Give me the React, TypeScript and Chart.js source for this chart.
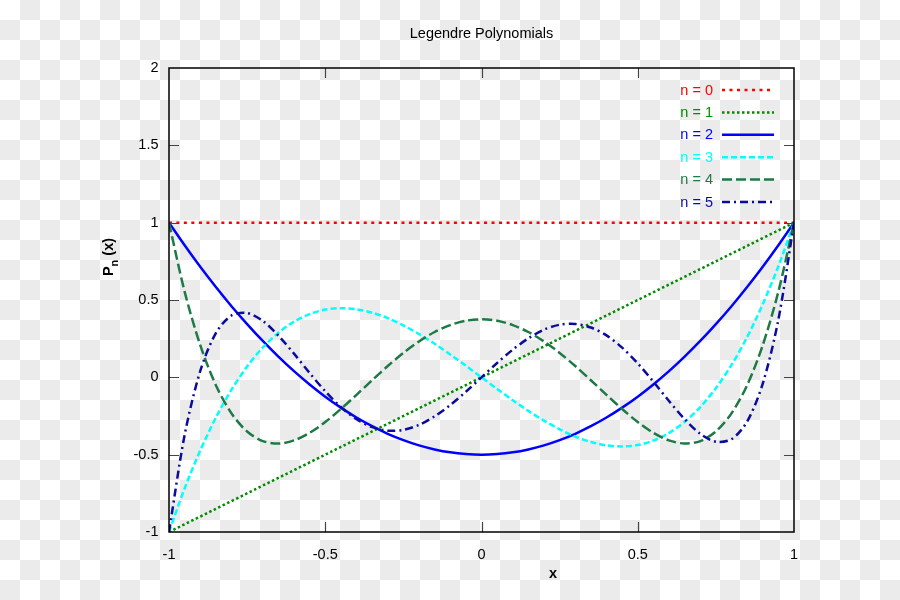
import { useEffect, useRef } from 'react';
import { Chart, registerables } from 'chart.js';

Chart.register(...registerables);

const chartTitle = 'Legendre Polynomials';
const xAxisTitle = 'x';
const seriesLabels = ['n = 0', 'n = 1', 'n = 2', 'n = 3', 'n = 4', 'n = 5'];
const seriesColors = ['#ff0000', '#008a00', '#0000ff', '#00ffff', '#1d7a46', '#0b0b9c'];

// straight lines (n = 0, n = 1)
const lineX = [-1, 1];
const p0 = [1, 1];
const p1 = [-1, 1];

// sampled curves (n = 2 .. 5)
const xValues = [
  -1, -0.95, -0.9, -0.85, -0.8, -0.75, -0.7, -0.65, -0.6, -0.55, -0.5, -0.45, -0.4, -0.35, -0.3, -0.25,
  -0.2, -0.15, -0.1, -0.05, 0, 0.05, 0.1, 0.15, 0.2, 0.25, 0.3, 0.35, 0.4, 0.45, 0.5, 0.55, 0.6, 0.65,
  0.7, 0.75, 0.8, 0.85, 0.9, 0.95, 1,
];
const p2 = [
  1, 0.854, 0.715, 0.584, 0.46, 0.344, 0.235, 0.134, 0.04, -0.046, -0.125, -0.196, -0.26, -0.316, -0.365,
  -0.406, -0.44, -0.466, -0.485, -0.496, -0.5, -0.496, -0.485, -0.466, -0.44, -0.406, -0.365, -0.316, -0.26,
  -0.196, -0.125, -0.046, 0.04, 0.134, 0.235, 0.344, 0.46, 0.584, 0.715, 0.854, 1,
];
const p3 = [
  -1, -0.718, -0.473, -0.26, -0.08, 0.07, 0.193, 0.288, 0.36, 0.409, 0.438, 0.447, 0.44, 0.418, 0.383,
  0.336, 0.28, 0.217, 0.148, 0.075, 0, -0.075, -0.148, -0.217, -0.28, -0.336, -0.383, -0.418, -0.44,
  -0.447, -0.438, -0.409, -0.36, -0.288, -0.193, -0.07, 0.08, 0.26, 0.473, 0.718, 1,
];
const p4 = [
  1, 0.554, 0.208, -0.051, -0.233, -0.35, -0.412, -0.428, -0.408, -0.359, -0.289, -0.205, -0.113, -0.019,
  0.073, 0.158, 0.232, 0.293, 0.338, 0.366, 0.375, 0.366, 0.338, 0.293, 0.232, 0.158, 0.073, -0.019, -0.113,
  -0.205, -0.289, -0.359, -0.408, -0.428, -0.412, -0.35, -0.233, -0.051, 0.208, 0.554, 1,
];
const p5 = [
  -1, -0.373, 0.041, 0.286, 0.4, 0.416, 0.365, 0.27, 0.153, 0.028, -0.09, -0.192, -0.271, -0.322, -0.345,
  -0.34, -0.308, -0.252, -0.179, -0.093, 0, 0.093, 0.179, 0.252, 0.308, 0.34, 0.345, 0.322, 0.271, 0.192,
  0.09, -0.028, -0.153, -0.27, -0.365, -0.416, -0.4, -0.286, -0.041, 0.373, 1,
];

// tick values and their labels
const xTickValues = [-1, -0.5, 0, 0.5, 1];
const xTickLabels = ['-1', '-0.5', '0', '0.5', '1'];
const yTickValues = [-1, -0.5, 0, 0.5, 1, 1.5, 2];
const yTickLabels = ['-1', '-0.5', '0', '0.5', '1', '1.5', '2'];

const xMin = -1;
const xMax = 1;
const yMin = -1;
const yMax = 2;
const tickStep = 0.5;

const dashes: number[][] = [[3, 4.5], [2.5, 2.5], [], [6, 3], [10, 4], [8, 4, 2, 4]];
const widths = [2.5, 2.5, 2.5, 2.5, 2.5, 2.5];

const FONT = '"Liberation Sans", Arial, sans-serif';
const FS = 14.5;

const labelFor = (values: number[], labels: string[], v: number) => {
  const i = values.findIndex((t) => Math.abs(t - v) < 1e-9);
  return i >= 0 ? labels[i] : '';
};

const framePlugin = {
  id: 'frameTicks',
  afterDatasetsDraw(chart: any) {
    const { ctx, chartArea } = chart;
    const { left, right, top, bottom } = chartArea;
    const xs = chart.scales.x;
    const ys = chart.scales.y;
    ctx.save();
    ctx.strokeStyle = '#444';
    ctx.lineWidth = 1.2;
    ctx.beginPath();
    xs.ticks.forEach((t: any) => {
      if (t.value <= xMin || t.value >= xMax) return;
      const px = Math.round(xs.getPixelForValue(t.value)) + 0.5;
      ctx.moveTo(px, bottom);
      ctx.lineTo(px, bottom - 10);
      ctx.moveTo(px, top);
      ctx.lineTo(px, top + 10);
    });
    ys.ticks.forEach((t: any) => {
      if (t.value <= yMin || t.value >= yMax) return;
      const py = Math.round(ys.getPixelForValue(t.value)) + 0.5;
      ctx.moveTo(left, py);
      ctx.lineTo(left + 10, py);
      ctx.moveTo(right, py);
      ctx.lineTo(right - 10, py);
    });
    ctx.stroke();
    ctx.strokeStyle = '#000';
    ctx.lineWidth = 1.5;
    ctx.strokeRect(left, top, right - left, bottom - top);
    ctx.restore();
  },
};

const legendPlugin = {
  id: 'insideLegend',
  afterDraw(chart: any) {
    const { ctx } = chart;
    ctx.save();
    ctx.font = `${FS}px ${FONT}`;
    ctx.textAlign = 'right';
    ctx.textBaseline = 'middle';
    chart.data.datasets.forEach((ds: any, i: number) => {
      const y = 90 + i * 22.4;
      ctx.fillStyle = ds.borderColor;
      ctx.fillText(seriesLabels[i], 713, y + 0.5);
      ctx.strokeStyle = ds.borderColor;
      ctx.lineWidth = ds.borderWidth;
      ctx.setLineDash(ds.borderDash || []);
      ctx.beginPath();
      ctx.moveTo(722, y);
      ctx.lineTo(774, y);
      ctx.stroke();
    });
    ctx.restore();
  },
};

const axisTitlesPlugin = {
  id: 'axisTitles',
  afterDraw(chart: any) {
    const { ctx } = chart;
    ctx.save();
    ctx.fillStyle = '#000';
    const big = `bold ${FS}px ${FONT}`;
    const small = `bold 11px ${FONT}`;
    // x title
    ctx.font = big;
    ctx.textAlign = 'center';
    ctx.textBaseline = 'middle';
    ctx.fillText(xAxisTitle, 553, 574);
    // y title with subscript
    ctx.translate(113, 257);
    ctx.rotate(-Math.PI / 2);
    ctx.textBaseline = 'alphabetic';
    ctx.textAlign = 'left';
    ctx.font = big;
    const wP = ctx.measureText('P').width;
    const wX = ctx.measureText(' (x)').width;
    ctx.font = small;
    const wN = ctx.measureText('n').width;
    let x = -(wP + wN + wX) / 2;
    ctx.font = big;
    ctx.fillText('P', x, 0);
    x += wP;
    ctx.font = small;
    ctx.fillText('n', x, 5);
    x += wN;
    ctx.font = big;
    ctx.fillText(' (x)', x, 0);
    ctx.restore();
  },
};

export default function App() {
  const canvasRef = useRef<HTMLCanvasElement | null>(null);

  useEffect(() => {
    if (!canvasRef.current) return;
    const curveY = [p0, p1, p2, p3, p4, p5];
    const datasets = curveY.map((ys, i) => {
      const xs = i < 2 ? lineX : xValues;
      return {
        label: seriesLabels[i],
        data: ys.map((y, j) => ({ x: xs[j], y })),
        borderColor: seriesColors[i],
        backgroundColor: seriesColors[i],
        borderWidth: widths[i],
        borderDash: dashes[i],
        pointRadius: 0,
        tension: 0.3,
        fill: false,
        order: 5 - i,
      };
    });

    const chart = new Chart(canvasRef.current, {
      type: 'line',
      data: { datasets },
      plugins: [framePlugin, legendPlugin, axisTitlesPlugin],
      options: {
        responsive: false,
        animation: false,
        devicePixelRatio: 1,
        layout: { padding: { left: 0, right: 106, top: 0, bottom: 0 } },
        plugins: {
          legend: { display: false },
          tooltip: { enabled: false },
          title: {
            display: true,
            text: chartTitle,
            fullSize: false,
            color: '#000',
            font: { family: FONT, size: FS, weight: 'normal', lineHeight: 1.2 },
            padding: { top: 24.8, bottom: 25.8 },
          },
        },
        scales: {
          x: {
            type: 'linear',
            min: xMin,
            max: xMax,
            grid: { display: false, drawTicks: false },
            border: { display: false },
            ticks: {
              stepSize: tickStep,
              color: '#000',
              padding: 14.5,
              maxRotation: 0,
              font: { family: FONT, size: FS },
              callback: (v: any) => labelFor(xTickValues, xTickLabels, Number(v)),
            },
            afterFit(scale: any) {
              scale.height = 68;
            },
          },
          y: {
            type: 'linear',
            min: yMin,
            max: yMax,
            grid: { display: false, drawTicks: false },
            border: { display: false },
            ticks: {
              stepSize: tickStep,
              color: '#000',
              padding: 10.5,
              font: { family: FONT, size: FS },
              callback: (v: any) => labelFor(yTickValues, yTickLabels, Number(v)),
            },
            afterFit(scale: any) {
              scale.width = 169;
            },
          },
        },
      },
    } as any);
    return () => chart.destroy();
  }, []);

  return (
    <div
      style={{
        position: 'fixed',
        left: 0,
        top: 0,
        width: 900,
        height: 600,
        backgroundColor: '#ffffff',
        backgroundImage: 'repeating-conic-gradient(#ebebeb 0% 25%, #ffffff 0% 50%)',
        backgroundSize: '40px 40px',
        backgroundPosition: '0 0',
      }}
    >
      <canvas ref={canvasRef} width={900} height={600} style={{ display: 'block' }} />
    </div>
  );
}
